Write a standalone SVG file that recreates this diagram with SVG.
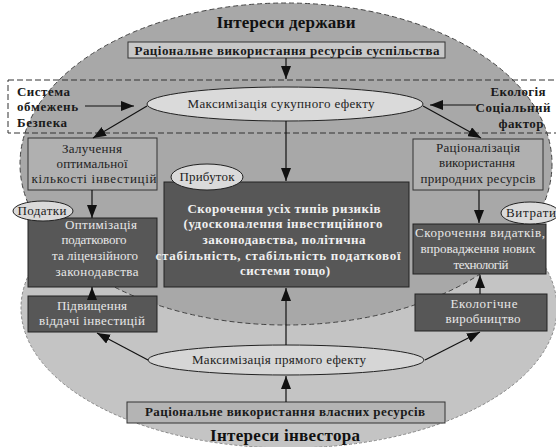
<svg xmlns="http://www.w3.org/2000/svg" width="556" height="447" viewBox="0 0 556 447">
<defs>
<marker id="ah" markerWidth="13" markerHeight="10" refX="13" refY="5" orient="auto" markerUnits="userSpaceOnUse">
<path d="M0,0 L13,5 L0,10 Z" fill="#111"/>
</marker>
<style>
text{font-family:"Liberation Serif","Times New Roman",serif}
.t{font-size:13px;fill:#222;text-anchor:middle}
.s{font-size:13px;fill:#222}
.w{font-size:13px;fill:#e8e8e8;text-anchor:middle}
.b{font-size:13px;font-weight:bold;fill:#1a1a1a;text-anchor:middle}
.bs{font-size:13px;font-weight:bold;fill:#1a1a1a}
.bw{font-size:13px;font-weight:bold;fill:#f0f0f0;text-anchor:middle}
.h{font-size:17px;font-weight:bold;fill:#111;text-anchor:middle}
.mid{fill:#b0b0b0;stroke:#333;stroke-width:1}
.dark{fill:#575757;stroke:#222;stroke-width:1}
.ov{fill:#dadada;stroke:#222;stroke-width:1}
.c{stroke:#111;stroke-width:1.2;fill:none;marker-end:url(#ah)}
</style>
</defs>
<rect width="556" height="447" fill="#ffffff"/>
<g id="background">
<ellipse cx="289" cy="308" rx="268" ry="140" fill="#c4c4c4" stroke="#888" stroke-width="1" stroke-dasharray="3,2"/>
<ellipse cx="286" cy="164" rx="266" ry="161" fill="#a8a8a8" stroke="#444" stroke-width="1" stroke-dasharray="5,3"/>
<rect x="8" y="80" width="560" height="53" fill="none" stroke="#333" stroke-width="1" stroke-dasharray="6,3"/>
</g>
<g id="title-state"><text class="h" x="286" y="28" textLength="139">Інтереси держави</text></g>
<g id="box-society">
<rect x="128" y="42" width="317" height="16" fill="#c8c8c8" stroke="#333"/>
<text class="b" x="287" y="55" textLength="305">Раціональне використання ресурсів суспільства</text>
</g>
<g id="oval-total">
<ellipse class="ov" cx="285" cy="104" rx="138" ry="17"/>
<text class="t" x="281" y="108" textLength="187">Максимізація сукупного ефекту</text>
</g>
<g id="left-constraints">
<text class="bs" x="17" y="96" textLength="53">Система</text>
<text class="bs" x="17" y="111" textLength="61">обмежень</text>
<text class="bs" x="17" y="127" textLength="50">Безпека</text>
</g>
<g id="right-factors">
<text class="b" x="518" y="96" textLength="55">Екологія</text>
<text class="b" x="513" y="112" textLength="75">Соціальний</text>
<text class="b" x="521" y="128" textLength="45">фактор</text>
</g>
<g id="box-invest">
<rect class="mid" x="28" y="138" width="129" height="52"/>
<text class="t" x="92" y="153" textLength="60">Залучення</text>
<text class="t" x="92" y="168" textLength="71">оптимальної</text>
<text class="t" x="94" y="183" textLength="125">кількості інвестицій</text>
</g>
<g id="box-tax">
<rect class="dark" x="28" y="218" width="129" height="69"/>
<text class="w" x="101" y="229" textLength="72">Оптимізація</text>
<text class="w" x="94" y="244" textLength="65">податкового</text>
<text class="w" x="95" y="260" textLength="86">та ліцензійного</text>
<text class="w" x="97" y="276" textLength="83">законодавства</text>
</g>
<g id="oval-taxes">
<ellipse class="ov" cx="43" cy="211" rx="30" ry="10"/>
<text class="t" x="42" y="215" textLength="49">Податки</text>
</g>
<g id="box-returns">
<rect class="dark" x="28" y="296" width="129" height="36"/>
<text class="w" x="92" y="310" textLength="70">Підвищення</text>
<text class="w" x="92" y="325" textLength="106">віддачі інвестицій</text>
</g>
<g id="box-risk">
<rect class="dark" x="164" y="182" width="245" height="105"/>
<text class="bw" x="284" y="213" textLength="193">Скорочення усіх типів ризиків</text>
<text class="bw" x="283" y="228" textLength="199">(удосконалення інвестиційного</text>
<text class="bw" x="284" y="244" textLength="163">законодавства, політична</text>
<text class="bw" x="278" y="260" textLength="245">стабільність, стабільність податкової</text>
<text class="bw" x="285" y="275" textLength="90">системи тощо)</text>
</g>
<g id="oval-profit">
<ellipse class="ov" cx="207" cy="177" rx="36" ry="13"/>
<text class="t" x="207" y="181" textLength="55">Прибуток</text>
</g>
<g id="box-nature">
<rect class="mid" x="413" y="139" width="130" height="51"/>
<text class="t" x="478" y="152" textLength="84">Раціоналізація</text>
<text class="t" x="477" y="167" textLength="76">використання</text>
<text class="t" x="478" y="183" textLength="115">природних ресурсів</text>
</g>
<g id="box-costs">
<rect class="dark" x="413" y="224" width="133" height="50"/>
<text class="w" x="480" y="237" textLength="130">Скорочення видатків,</text>
<text class="w" x="478" y="253" textLength="115">впровадження нових</text>
<text class="w" x="481" y="269" textLength="55">технологій</text>
</g>
<g id="oval-costs">
<ellipse class="ov" cx="530" cy="213" rx="29" ry="11"/>
<text class="s" x="506" y="217" textLength="50">Витрати</text>
</g>
<g id="box-eco">
<rect class="dark" x="415" y="294" width="132" height="37"/>
<text class="w" x="484" y="308" textLength="67">Екологічне</text>
<text class="w" x="483" y="323" textLength="75">виробництво</text>
</g>
<g id="oval-direct">
<ellipse cx="286" cy="360" rx="138" ry="15" fill="#d6d6d6" stroke="#222" stroke-width="1"/>
<text class="t" x="279" y="364" textLength="174">Максимізація прямого ефекту</text>
</g>
<g id="box-own">
<rect x="127" y="402" width="318" height="21" fill="#b4b4b4" stroke="#333"/>
<text class="b" x="285" y="416" textLength="280">Раціональне використання власних ресурсів</text>
</g>
<g id="title-investor"><text class="h" x="285" y="441" textLength="150">Інтереси інвестора</text></g>
<g id="connectors">
<line class="c" x1="286" y1="58" x2="286" y2="79"/>
<line class="c" x1="85" y1="106" x2="134" y2="106"/>
<line class="c" x1="476" y1="105" x2="430" y2="105"/>
<line class="c" x1="147" y1="106" x2="93" y2="138"/>
<line class="c" x1="423" y1="106" x2="481" y2="138"/>
<line class="c" x1="286" y1="121" x2="286" y2="181"/>
<line class="c" x1="92" y1="190" x2="92" y2="218"/>
<line class="c" x1="479" y1="190" x2="479" y2="223"/>
<line class="c" x1="92" y1="296" x2="92" y2="287"/>
<line class="c" x1="148" y1="360" x2="97" y2="333"/>
<line class="c" x1="425" y1="360" x2="480" y2="332"/>
<line class="c" x1="286" y1="345" x2="286" y2="288"/>
<line class="c" x1="286" y1="402" x2="286" y2="376"/>
<line class="c" x1="480" y1="294" x2="480" y2="275"/>
</g>
</svg>
